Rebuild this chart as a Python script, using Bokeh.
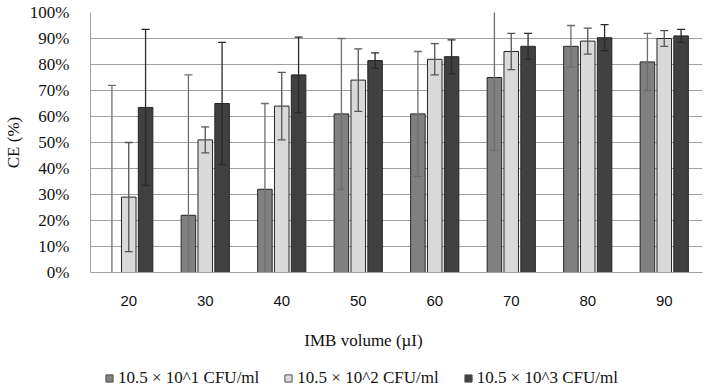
from bokeh.plotting import figure
from bokeh.layouts import column
from bokeh.models import (ColumnDataSource, FactorRange, Legend, LegendItem,
                          FixedTicker, PrintfTickFormatter, Label)
from bokeh.transform import dodge
from bokeh.embed import file_html
from bokeh.resources import INLINE

categories = ["20", "30", "40", "50", "60", "70", "80", "90"]
series_names = ["10.5 \u00d7 10^1 CFU/ml", "10.5 \u00d7 10^2 CFU/ml", "10.5 \u00d7 10^3 CFU/ml"]
x_title = "IMB volume (\u00b5I)"
y_title = "CE (%)"

s1_values = [0, 22, 32, 61, 61, 75, 87, 81]
s1_errors = [72, 54, 33, 29, 24, 28, 8, 11]
s2_values = [29, 51, 64, 74, 82, 85, 89, 90]
s2_errors = [21, 5, 13, 12, 6, 7, 5, 3]
s3_values = [63.5, 65, 76, 81.5, 83, 87, 90.3, 91]
s3_errors = [30, 23.5, 14.5, 3, 6.5, 5, 5, 2.5]

y_ticks = [0, 10, 20, 30, 40, 50, 60, 70, 80, 90, 100]

fills = ["#808080", "#d9d9d9", "#404040"]
err_colors = ["#6e6e6e", "#555555", "#2a2a2a"]
offsets = [-0.22, 0.0, 0.22]

SERIF = "Liberation Serif"

p = figure(x_range=FactorRange(factors=categories, range_padding=0),
           y_range=(0, 100), frame_width=612, frame_height=260,
           output_backend="svg", toolbar_location=None,
           min_border_left=88, min_border_right=10, min_border_top=12,
           min_border_bottom=40)

# strip below the chart carrying the x title and the legend
lf = figure(width=710, height=78, output_backend="svg", toolbar_location=None,
            x_axis_type=None, y_axis_type=None, x_range=(0, 1), y_range=(0, 1),
            min_border_left=0, min_border_right=0, min_border_top=0,
            min_border_bottom=0)
lf.outline_line_color = None
lf.xgrid.grid_line_color = None
lf.ygrid.grid_line_color = None

items = []
for vals, errs, fill, ec, off, name in zip(
        [s1_values, s2_values, s3_values], [s1_errors, s2_errors, s3_errors],
        fills, err_colors, offsets, series_names):
    src = ColumnDataSource(dict(
        cat=categories, val=vals,
        up=[v + e for v, e in zip(vals, errs)],
        lo=[v - e for v, e in zip(vals, errs)]))
    x = dodge("cat", off, range=p.x_range)
    p.vbar(x=x, top="val", bottom=0, width=0.19, source=src,
           fill_color=fill, line_color="#262626", line_width=1)
    p.segment(x0=x, x1=x, y0="lo", y1="up", source=src,
              line_color=ec, line_width=1.3)
    p.scatter(x=x, y="up", source=src, marker="dash", size=8,
              line_color=ec, line_width=1.3)
    p.scatter(x=x, y="lo", source=src, marker="dash", size=8,
              line_color=ec, line_width=1.3)
    # legend proxy, placed outside the visible range of the legend strip
    lr = lf.scatter(x=[5], y=[5], marker="square", size=8, fill_color=fill,
                    line_color="#505050", line_width=1)
    items.append(LegendItem(label=name, renderers=[lr]))

legend = Legend(items=items, orientation="horizontal", location=(10, 2),
                padding=0, margin=0, spacing=20, label_standoff=-3,
                glyph_width=18, glyph_height=20, label_height=17,
                label_text_font=SERIF, label_text_font_size="17px",
                label_text_color="#111111",
                background_fill_alpha=0, border_line_alpha=0)
lf.add_layout(legend, "center")

lf.add_layout(Label(x=273, y=50, x_units="screen", y_units="screen",
                    text=x_title, text_align="center", text_baseline="middle",
                    text_font=SERIF, text_font_size="17px",
                    text_color="#111111"))

p.yaxis.ticker = FixedTicker(ticks=y_ticks)
p.yaxis.formatter = PrintfTickFormatter(format="%d%%")
p.yaxis.major_label_text_font = SERIF
p.yaxis.major_label_text_font_size = "17px"
p.yaxis.major_label_text_color = "#111111"
p.yaxis.major_label_standoff = 15
p.yaxis.axis_label = y_title
p.yaxis.axis_label_text_font = SERIF
p.yaxis.axis_label_text_font_size = "17px"
p.yaxis.axis_label_text_font_style = "normal"
p.yaxis.axis_label_text_color = "#111111"
p.yaxis.axis_label_standoff = 4
p.yaxis.axis_line_color = "#a0a0a0"
p.yaxis.major_tick_line_color = None
p.yaxis.minor_tick_line_color = None

p.xaxis.major_label_text_font = "Liberation Sans"
p.xaxis.major_label_text_font_size = "15px"
p.xaxis.major_label_text_color = "#111111"
p.xaxis.major_label_standoff = 17
p.xaxis.axis_line_color = "#a0a0a0"
p.xaxis.major_tick_line_color = None

p.xgrid.grid_line_color = None
p.ygrid.grid_line_color = "#a0a0a0"
p.ygrid.ticker = FixedTicker(ticks=y_ticks)
p.outline_line_color = None

layout = column(p, lf, spacing=0)
open("out.html", "w").write(file_html(layout, INLINE))
